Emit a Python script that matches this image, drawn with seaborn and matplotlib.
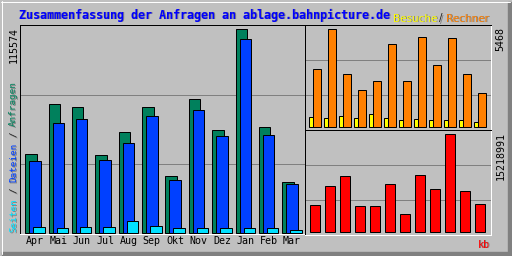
import numpy as np
import pandas as pd
import matplotlib
matplotlib.use("Agg")
import matplotlib.pyplot as plt
import seaborn as sns
from matplotlib.transforms import offset_copy
from matplotlib.lines import Line2D
from matplotlib.patches import Rectangle

# ---------------- data ----------------
months = ["Apr", "Mai", "Jun", "Jul", "Aug", "Sep", "Okt", "Nov", "Dez", "Jan", "Feb", "Mar"]
anfragen = [44480, 72920, 71550, 43910, 56990, 71550, 31970, 75760, 58130, 115574, 59840, 28550]
dateien = [40500, 62110, 64390, 41070, 50740, 66090, 29690, 69510, 54720, 109890, 55290, 27420]
seiten = [2960, 2390, 2960, 2960, 6540, 3530, 2390, 2390, 2390, 2390, 2390, 1420]
besuche = [558, 502, 614, 502, 725, 502, 391, 446, 391, 391, 391, 279]
rechner = [3236, 5468, 2957, 2065, 2567, 4631, 2567, 5022, 3459, 4966, 2957, 1897]
kbytes = [4193000, 7144000, 8697000, 4038000, 4038000, 7454000, 2795000, 8852000, 6678000, 15218991, 6367000, 4348000]

title = "Zusammenfassung der Anfragen an ablage.bahnpicture.de"

# ---------------- colours ----------------
GREY = "#C0C0C0"
DKGREY = "#808080"
C_HIT = "#00805C"
C_FILE = "#0040FF"
C_PAGE = "#00E0FF"
C_VISIT = "#FFFF00"
C_SITE = "#FF8000"
C_KB = "#FF0000"

W, H = 512, 256
sns.set_style("white")
plt.rcParams["font.family"] = ["DejaVu Sans Mono", "DejaVu Sans"]
fig = plt.figure(figsize=(W / 100, H / 100), dpi=100, facecolor=GREY)

PX = 0.72  # one pixel in points


def add_ax(x0, y0, x1, y1):
    ax = fig.add_axes([x0 / W, 1 - y1 / H, (x1 - x0) / W, (y1 - y0) / H])
    ax.set_facecolor(GREY)
    for s in ["top", "left"]:
        ax.spines[s].set_color("black")
        ax.spines[s].set_linewidth(PX)
    for s in ["bottom", "right"]:
        ax.spines[s].set_color("white")
        ax.spines[s].set_linewidth(PX)
    ax.tick_params(length=0)
    return ax


def bars(ax, x, y, width, color):
    df = pd.DataFrame({"x": x, "y": y})
    sns.barplot(data=df, x="x", y="y", native_scale=True, orient="x", width=width,
                color=color, edgecolor="black", linewidth=PX, errorbar=None,
                saturation=1, ax=ax)


def gridlines(ax, ylim):
    lo, hi = ylim
    for f in (1 / 3, 2 / 3):
        ax.axhline(lo + (hi - lo) * f, color=DKGREY, lw=PX, zorder=0)


idx = np.arange(len(months))

# ---------------- main panel ----------------
axm = add_ax(20, 25, 305, 234)
k = max(anfragen) / 203.2
ylim_m = (-1.5 * k, 207.5 * k)
gridlines(axm, ylim_m)
off = 4 / 23.36
bars(axm, idx, anfragen, 0.488, C_HIT)
bars(axm, idx + off, dateien, 0.488, C_FILE)
bars(axm, idx + 2 * off, seiten, 0.488, C_PAGE)
axm.set_xlim(-0.471, -0.471 + 285 / 23.36)
axm.set_ylim(*ylim_m)
axm.set_yticks([])
axm.set_xticks(idx + off)
axm.set_xticklabels(months, fontsize=7.2, family="DejaVu Sans Mono", color="black")
axm.tick_params(axis="x", pad=1.5)
axm.set_xlabel("")
axm.set_ylabel("")

# ---------------- top right panel ----------------
axv = add_ax(305, 25, 491, 130)
k2 = max(rechner) / 98.0
ylim_v = (-2.7 * k2, 102.3 * k2)
gridlines(axv, ylim_v)
bars(axv, idx - 4 / 15, besuche, 0.493, C_VISIT)
bars(axv, idx, rechner, 0.493, C_SITE)
axv.set_xlim(-0.8, -0.8 + 186 / 15)
axv.set_ylim(*ylim_v)
axv.set_xticks([])
axv.set_yticks([])
axv.set_xlabel("")
axv.set_ylabel("")

# ---------------- bottom right panel ----------------
axk = add_ax(305, 130, 491, 235)
k3 = max(kbytes) / 98.0
ylim_k = (-2.7 * k3, 102.3 * k3)
gridlines(axk, ylim_k)
bars(axk, idx, kbytes, 0.627, C_KB)
axk.set_xlim(-0.667, -0.667 + 186 / 15)
axk.set_ylim(*ylim_k)
axk.set_xticks([])
axk.set_yticks([])
axk.set_xlabel("")
axk.set_ylabel("")

# ---------------- texts ----------------
shadow_tr = offset_copy(fig.transFigure, fig=fig, x=1, y=-1, units="dots")


def txt(x, y, s, color, shadow=True, **kw):
    if shadow:
        fig.text(x / W, 1 - y / H, s, color=DKGREY, transform=shadow_tr, **kw)
    fig.text(x / W, 1 - y / H, s, color=color, **kw)


txt(19.3, 18.5, title, "#0000FF", family="DejaVu Sans Mono", fontweight="bold",
    fontsize=8.4, ha="left", va="baseline")
txt(393, 21.5, "Besuche", C_VISIT, family="DejaVu Sans", fontsize=7.5, ha="left", va="baseline")
txt(441, 21.5, "/", "#202020", family="DejaVu Sans", fontsize=7.5, ha="center", va="baseline")
txt(489, 21.5, "Rechner", C_SITE, family="DejaVu Sans", fontsize=7.5, ha="right", va="baseline")

# vertical legend on the left
vfs = 6.7
adv = 0.602 * vfs / 72 * 100
pieces = [("Seiten", C_PAGE, 0), ("/", "#202020", 7), ("Dateien", C_FILE, 9),
          ("/", "#202020", 17), ("Anfragen", C_HIT, 19)]
for s, c, start in pieces:
    txt(13.5, 232 - start * adv, s, c, family="DejaVu Sans Mono", fontsize=vfs,
        rotation=90, ha="center", va="bottom")

txt(13.5, 27, str(max(anfragen)), "black", shadow=False, family="DejaVu Sans Mono",
    fontsize=7.2, rotation=90, ha="center", va="top")
txt(500.5, 27, str(max(rechner)), "black", shadow=False, family="DejaVu Sans Mono",
    fontsize=7.2, rotation=90, ha="center", va="top")
txt(500.5, 132, str(max(kbytes)), "black", shadow=False, family="DejaVu Sans Mono",
    fontsize=7.2, rotation=90, ha="center", va="top")
txt(490, 247.5, "kb", C_KB, family="DejaVu Sans Mono", fontsize=7.2, ha="right", va="baseline")

# ---------------- outer bevel frame ----------------
def hline(y, x0, x1, c, lw=1):
    fig.add_artist(Line2D([x0 / W, x1 / W], [1 - y / H, 1 - y / H], color=c, lw=lw * PX,
                          transform=fig.transFigure))


def vline(x, y0, y1, c, lw=1):
    fig.add_artist(Line2D([x / W, x / W], [1 - y0 / H, 1 - y1 / H], color=c, lw=lw * PX,
                          transform=fig.transFigure))


hline(1.5, 1, 510, "white")
vline(1.5, 1, 254, "white")
fig.add_artist(Rectangle(((W - 4) / W, 0), 3 / W, 1 - 2 / H, color=DKGREY, transform=fig.transFigure))
fig.add_artist(Rectangle((2 / W, 1 / H), 1 - 3 / W, 3 / H, color=DKGREY, transform=fig.transFigure))
vline(511.5, 0, 256, "black")
hline(255.5, 0, 512, "black")

fig.savefig("out.png", dpi=100, facecolor=GREY)
